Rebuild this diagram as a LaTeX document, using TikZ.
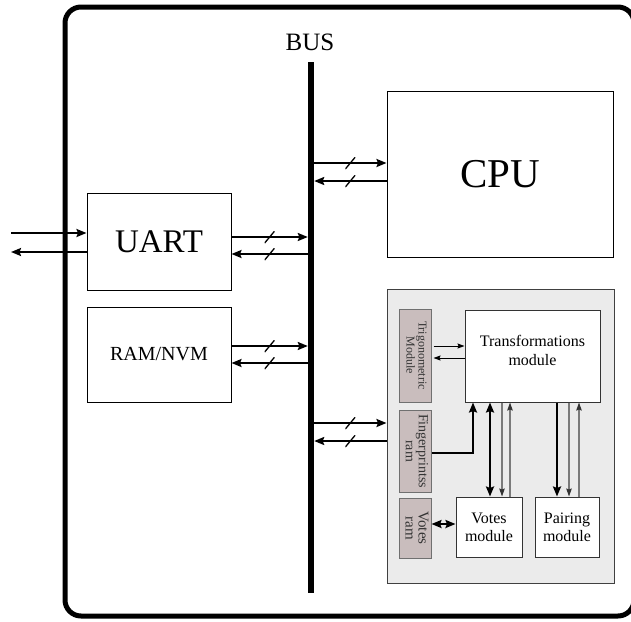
\documentclass[tikz,border=0pt]{standalone}
\usepackage{fontspec}
\setmainfont{Liberation Serif}
\usetikzlibrary{arrows.meta,calc}
\definecolor{panelgray}{HTML}{EBEBEB}
\definecolor{sidefill}{HTML}{C9BDBD}
\definecolor{sideedge}{HTML}{707070}
\definecolor{thingray}{HTML}{7A7A7A}
\tikzset{
  box/.style={draw, line width=1pt, fill=white, inner sep=0pt},
  sidebox/.style={draw=sideedge, line width=1pt, fill=sidefill, inner sep=0pt,
    minimum width=32pt, text=black!80, align=center},
  busarrow/.style={line width=2pt, -{Stealth[length=10pt,width=8pt,inset=1.5pt]}},
  thickarrow/.style={line width=2.6pt, -{Stealth[length=10pt,width=8pt,inset=1.5pt]}},
  thickboth/.style={line width=2.6pt, {Stealth[length=10pt,width=8pt,inset=1.5pt]}-{Stealth[length=10pt,width=8pt,inset=1.5pt]}},
  thinarrow/.style={line width=0.9pt, -{Stealth[length=7pt,width=5pt,inset=1pt]}},
  grayarrow/.style={draw=thingray, line width=1.2pt, -{Stealth[length=8pt,width=5.5pt,inset=1pt,fill=black!80,color=black!80]}},
  slashmark/.style={minimum width=10pt, minimum height=12pt, inner sep=0pt,
    path picture={\draw[line width=1.3pt, -] (path picture bounding box.south west) -- (path picture bounding box.north east);}}
}
\begin{document}
\begin{tikzpicture}[x=1pt,y=-1pt]
\useasboundingbox (0,0) rectangle (631,621);

% outer frame
\node[draw, line width=5pt, rounded corners=16pt, minimum width=569pt, minimum height=609pt, inner sep=0pt] (frame) at (349.5,311.5) {};

% system bus
\node[fill=black, minimum width=6pt, minimum height=531pt, inner sep=0pt] (bus) at (311,327.5) {};
\node[font=\fontsize{25}{28}\selectfont] (buslabel) at (310,42) {BUS};

% main blocks
\node[box, minimum width=144pt, minimum height=97pt, font=\fontsize{33}{36}\selectfont] (uart) at (159,241.5) {UART};
\node[box, minimum width=144pt, minimum height=95pt, font=\fontsize{20}{24}\selectfont] (ram) at (159,354.5) {RAM/NVM};
\node[box, minimum width=226pt, minimum height=166pt, font=\fontsize{41}{44}\selectfont] (cpu) at (500,174) {CPU};

% accelerator panel
\node[draw=black!75, line width=1pt, fill=panelgray, minimum width=227pt, minimum height=294pt, inner sep=0pt] (panel) at (500.5,436.5) {};

\node[sidebox, minimum height=93pt, font=\fontsize{12}{12}\selectfont] (trig) at (415,355.5)
  {\rotatebox{-90}{\begin{tabular}{@{}c@{}}Trigonometric\\Module\end{tabular}}};
\node[sidebox, minimum height=82pt, font=\fontsize{14}{13}\selectfont] (finger) at (415,451)
  {\rotatebox{-90}{\begin{tabular}{@{}c@{}}Fingerprintss\\ram\end{tabular}}};
\node[sidebox, minimum height=60pt, font=\fontsize{15}{13}\selectfont] (vram) at (415,528)
  {\rotatebox{-90}{\begin{tabular}{@{}c@{}}Votes\\ram\end{tabular}}};

\node[box, draw=black!80, minimum width=135pt, minimum height=92pt,
  label={[font=\fontsize{16}{19}\selectfont, align=center, yshift=6pt]center:Transformations\\module}] (trans) at (532.5,356) {};
\node[box, draw=black!80, minimum width=66pt, minimum height=60pt, align=center, font=\fontsize{16}{18}\selectfont] (votes) at (489,527) {Votes\\module};
\node[box, draw=black!80, minimum width=64pt, minimum height=60pt, align=center, font=\fontsize{16}{18}\selectfont] (pairing) at (567,527) {Pairing\\module};

% serial line of the UART
\draw[busarrow] (11,233) -- (uart.west |- 0,233);
\draw[busarrow] (uart.west |- 0,252) -- (11,252);

% bus connections
\draw[busarrow] (uart.east |- 0,237) -- node[slashmark] {} (bus.west |- 0,237);
\draw[busarrow] (bus.west |- 0,254) -- node[slashmark] {} (uart.east |- 0,254);
\draw[busarrow] (ram.east |- 0,346) -- node[slashmark] {} (bus.west |- 0,346);
\draw[busarrow] (bus.west |- 0,363) -- node[slashmark] {} (ram.east |- 0,363);
\draw[busarrow] (bus.east |- 0,163) -- node[slashmark] {} (cpu.west |- 0,163);
\draw[busarrow] (cpu.west |- 0,181) -- node[slashmark] {} (bus.east |- 0,181);
\draw[busarrow] (bus.east |- 0,423) -- node[slashmark] {} (panel.west |- 0,423);
\draw[busarrow] (panel.west |- 0,441) -- node[slashmark] {} (bus.east |- 0,441);

% inside the accelerator
\draw[thinarrow] ($(trig.east |- 0,346)+(2,0)$) -- (trans.west |- 0,346);
\draw[thinarrow] (trans.west |- 0,358) -- ($(trig.east |- 0,358)+(2,0)$);
\draw[thickarrow] (finger.east |- 0,453) -| (trans.south -| 473,0);
\draw[thickboth] (trans.south -| 490,0) -- (votes.north -| 490,0);
\draw[grayarrow] (trans.south -| 502,0) -- (votes.north -| 502,0);
\draw[grayarrow] (votes.north -| 510,0) -- (trans.south -| 510,0);
\draw[thickarrow] (trans.south -| 557,0) -- (pairing.north -| 557,0);
\draw[grayarrow] (trans.south -| 569,0) -- (pairing.north -| 569,0);
\draw[grayarrow] (pairing.north -| 579,0) -- (trans.south -| 579,0);
\draw[thickboth] (vram.east |- 0,524) -- (votes.west |- 0,524);
\end{tikzpicture}
\end{document}
